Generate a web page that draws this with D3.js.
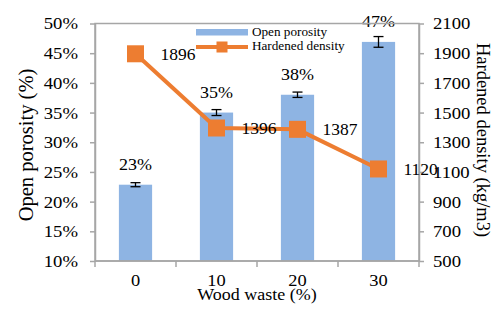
<!DOCTYPE html>
<html>
<head>
<meta charset="utf-8">
<script src="https://cdn.jsdelivr.net/npm/d3@7"></script>
<style>
  body { margin: 0; background: #fff; }
  svg text { font-family: "Liberation Serif", "Times New Roman", serif; fill: #000; }
</style>
</head>
<body>
<svg id="svg-main"></svg>
<script>
const WOOD_WASTE = ["0", "10", "20", "30"];
const OPEN_POROSITY = [0.2285, 0.350, 0.380, 0.469];
const POROSITY_ERR = [0.0034, 0.005, 0.0045, 0.009];
const POROSITY_LABELS = ["23%", "35%", "38%", "47%"];
const HARDENED_DENSITY = [1896, 1396, 1387, 1120];
const LEFT_TICKS = [0.10, 0.15, 0.20, 0.25, 0.30, 0.35, 0.40, 0.45, 0.50];
const RIGHT_TICKS = [500, 700, 900, 1100, 1300, 1500, 1700, 1900, 2100];

const BAR_COLOR = "#8EB4E3";
const LINE_COLOR = "#ED7D31";
const AXIS_COLOR = "#A6A6A6";

// the source figure's lettering is a little wider than plain Times
const TEXT_STRETCH = 1.1;

var Dims = {
    Width: 493,
    Height: 310,
    Plot: { Left: 95, Right: 419, Top: 23.5, Bottom: 261 }
};

var svg = d3.select("svg#svg-main")
    .attr("width", Dims.Width)
    .attr("height", Dims.Height);

var x = d3.scaleBand()
    .domain(WOOD_WASTE)
    .range([Dims.Plot.Left, Dims.Plot.Right])
    .paddingInner(0.59)
    .paddingOuter(0.295);

var xAxisScale = d3.scaleBand()
    .domain(WOOD_WASTE)
    .range([Dims.Plot.Left, Dims.Plot.Right]);

var yLeft = d3.scaleLinear()
    .domain([0.10, 0.50])
    .range([Dims.Plot.Bottom, Dims.Plot.Top]);

var yRight = d3.scaleLinear()
    .domain([500, 2100])
    .range([Dims.Plot.Bottom, Dims.Plot.Top]);

drawChart();

function drawChart() {
    drawBars();
    drawFrame();
    drawAxes();
    drawLine();
    drawLegend();
    drawTitles();
}

function stretchText(selection, s) {
    selection.each(function () {
        var t = d3.select(this);
        var xv = +t.attr("x") || 0;
        t.attr("x", xv / s).attr("transform", `scale(${s},1)`);
    });
}

function drawBars() {
    var g = svg.append("g").attr("class", "bars");

    g.selectAll("rect")
        .data(OPEN_POROSITY)
        .enter()
        .append("rect")
        .attr("x", (d, i) => x(WOOD_WASTE[i]))
        .attr("y", d => yLeft(d))
        .attr("width", x.bandwidth())
        .attr("height", d => yLeft(0.10) - yLeft(d))
        .attr("fill", BAR_COLOR);

    // error bars
    var eg = g.selectAll("g.err")
        .data(OPEN_POROSITY)
        .enter()
        .append("g")
        .attr("class", "err")
        .attr("stroke", "#000")
        .attr("stroke-width", 1.3);

    eg.each(function (d, i) {
        var cx = x(WOOD_WASTE[i]) + x.bandwidth() / 2;
        var y1 = yLeft(d + POROSITY_ERR[i]);
        var y2 = yLeft(d - POROSITY_ERR[i]);
        var s = d3.select(this);
        s.append("line").attr("x1", cx).attr("x2", cx).attr("y1", y1).attr("y2", y2);
        s.append("line").attr("x1", cx - 5).attr("x2", cx + 5).attr("y1", y1).attr("y2", y1);
        s.append("line").attr("x1", cx - 5).attr("x2", cx + 5).attr("y1", y2).attr("y2", y2);
    });

    g.selectAll("text.bar-label")
        .data(OPEN_POROSITY)
        .enter()
        .append("text")
        .attr("class", "bar-label")
        .attr("x", (d, i) => x(WOOD_WASTE[i]) + x.bandwidth() / 2)
        .attr("y", d => yLeft(d) - 15)
        .attr("text-anchor", "middle")
        .attr("font-size", 17)
        .text((d, i) => POROSITY_LABELS[i])
        .call(stretchText, 1.06);
}

function drawFrame() {
    svg.append("rect")
        .attr("x", Dims.Plot.Left)
        .attr("y", Dims.Plot.Top)
        .attr("width", Dims.Plot.Right - Dims.Plot.Left)
        .attr("height", Dims.Plot.Bottom - Dims.Plot.Top)
        .attr("fill", "none")
        .attr("stroke", AXIS_COLOR)
        .attr("stroke-width", 1.5);
}

function styleAxis(g) {
    g.selectAll(".domain").attr("stroke", AXIS_COLOR).attr("stroke-width", 1.5);
    g.selectAll(".tick line").attr("stroke", AXIS_COLOR).attr("stroke-width", 1.5);
    g.selectAll("text")
        .attr("font-size", 17)
        .attr("font-family", "Liberation Serif, Times New Roman, serif")
        .attr("fill", "#000")
        .call(stretchText, TEXT_STRETCH);
}

function drawAxes() {
    var left = svg.append("g")
        .attr("transform", `translate(${Dims.Plot.Left},0)`)
        .call(d3.axisLeft(yLeft).tickValues(LEFT_TICKS).tickFormat(d3.format(".0%")).tickSize(5).tickSizeOuter(0).tickPadding(12));
    styleAxis(left);

    var right = svg.append("g")
        .attr("transform", `translate(${Dims.Plot.Right},0)`)
        .call(d3.axisRight(yRight).tickValues(RIGHT_TICKS).tickFormat(d3.format("d")).tickSize(5).tickSizeOuter(0).tickPadding(9));
    styleAxis(right);

    // x ticks sit on category boundaries, labels at band centres
    var bottom = svg.append("g")
        .attr("transform", `translate(0,${Dims.Plot.Bottom})`);
    bottom.append("line")
        .attr("x1", Dims.Plot.Left).attr("x2", Dims.Plot.Right)
        .attr("stroke", AXIS_COLOR).attr("stroke-width", 1.5);
    var bounds = WOOD_WASTE.map(c => xAxisScale(c)).concat([Dims.Plot.Right]);
    bottom.selectAll("line.tick")
        .data(bounds)
        .enter()
        .append("line")
        .attr("class", "tick")
        .attr("x1", d => d).attr("x2", d => d)
        .attr("y1", 0).attr("y2", 6)
        .attr("stroke", AXIS_COLOR).attr("stroke-width", 1.5);
    bottom.selectAll("text")
        .data(WOOD_WASTE)
        .enter()
        .append("text")
        .attr("x", d => xAxisScale(d) + xAxisScale.bandwidth() / 2)
        .attr("y", 25)
        .attr("text-anchor", "middle")
        .attr("font-size", 16)
        .text(d => d)
        .call(stretchText, 1.15);
}

function drawLine() {
    var cx = (d, i) => x(WOOD_WASTE[i]) + x.bandwidth() / 2;
    var line = d3.line()
        .x(cx)
        .y(d => yRight(d));

    svg.append("path")
        .datum(HARDENED_DENSITY)
        .attr("d", line)
        .attr("fill", "none")
        .attr("stroke", LINE_COLOR)
        .attr("stroke-width", 4);

    svg.selectAll("rect.marker")
        .data(HARDENED_DENSITY)
        .enter()
        .append("rect")
        .attr("class", "marker")
        .attr("x", (d, i) => cx(d, i) - 8.5)
        .attr("y", d => yRight(d) - 8.5)
        .attr("width", 17)
        .attr("height", 17)
        .attr("fill", LINE_COLOR);

    svg.selectAll("text.density-label")
        .data(HARDENED_DENSITY)
        .enter()
        .append("text")
        .attr("class", "density-label")
        .attr("x", (d, i) => cx(d, i) + 25)
        .attr("y", d => yRight(d) + 6)
        .attr("font-size", 17)
        .text(d => d)
        .call(stretchText, 1.03);
}

function drawLegend() {
    var g = svg.append("g").attr("transform", "translate(196,0)");
    g.append("rect")
        .attr("x", 0).attr("y", 29)
        .attr("width", 52).attr("height", 6.5)
        .attr("fill", BAR_COLOR);
    g.append("text")
        .attr("x", 56).attr("y", 36)
        .attr("font-size", 12)
        .text("Open porosity")
        .call(stretchText, TEXT_STRETCH);

    g.append("line")
        .attr("x1", 0).attr("x2", 52)
        .attr("y1", 47).attr("y2", 47)
        .attr("stroke", LINE_COLOR).attr("stroke-width", 4);
    g.append("rect")
        .attr("x", 26 - 5.5).attr("y", 47 - 5.5)
        .attr("width", 11).attr("height", 11)
        .attr("fill", LINE_COLOR);
    g.append("text")
        .attr("x", 56).attr("y", 50)
        .attr("font-size", 12)
        .text("Hardened density")
        .call(stretchText, TEXT_STRETCH);
}

function drawTitles() {
    svg.append("text")
        .attr("transform", `translate(33,145) rotate(-90)`)
        .attr("text-anchor", "middle")
        .attr("font-size", 20.5)
        .text("Open porosity (%)");

    svg.append("text")
        .attr("transform", `translate(477,140) rotate(90)`)
        .attr("text-anchor", "middle")
        .attr("font-size", 18.5)
        .text("Hardened density (kg/m3)");

    svg.append("text")
        .attr("x", (Dims.Plot.Left + Dims.Plot.Right) / 2)
        .attr("y", 300.5)
        .attr("text-anchor", "middle")
        .attr("font-size", 16.5)
        .text("Wood waste (%)")
        .call(stretchText, 1.09);
}
</script>
</body>
</html>
